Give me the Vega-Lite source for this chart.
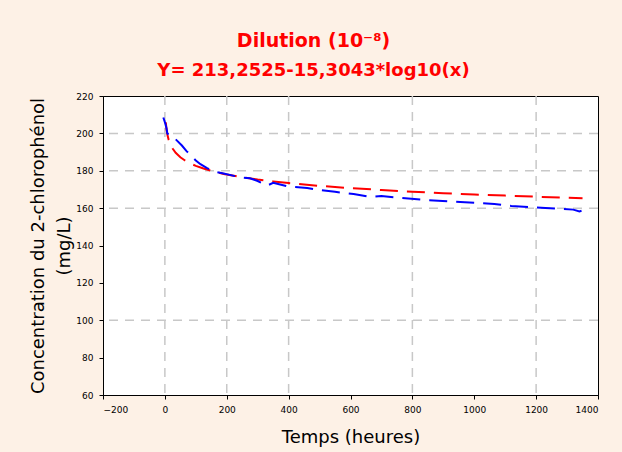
{
  "$schema": "https://vega.github.io/schema/vega-lite/v6.json",
  "width": 495,
  "height": 299,
  "autosize": {"type": "none"},
  "padding": {"left": 103, "top": 96, "right": 24, "bottom": 57},
  "background": "#fdf1e6",
  "title": {
    "text": "Dilution (10⁻⁸)",
    "subtitle": "Y= 213,2525-15,3043*log10(x)",
    "color": "#ff0000",
    "subtitleColor": "#ff0000",
    "font": "DejaVu Sans",
    "subtitleFont": "DejaVu Sans",
    "fontSize": 19,
    "subtitleFontSize": 18,
    "fontWeight": "bold",
    "subtitleFontWeight": "bold",
    "anchor": "middle",
    "dx": -37,
    "offset": 12,
    "subtitlePadding": 11
  },
  "config": {
    "view": {"fill": "white", "stroke": "black", "strokeWidth": 1},
    "axis": {
      "labelFont": "DejaVu Sans",
      "labelFontSize": 9,
      "labelColor": "black",
      "titleFont": "DejaVu Sans",
      "titleFontSize": 18,
      "titleFontWeight": "normal",
      "titleColor": "black",
      "domainColor": "black",
      "tickColor": "black",
      "grid": false,
      "format": "d"
    }
  },
  "datasets": {
    "blue": [
      {"t": -5, "c": 208.5}, {"t": 0, "c": 206}, {"t": 5, "c": 203}, {"t": 8, "c": 200},
      {"t": 15, "c": 199}, {"t": 25, "c": 198.5}, {"t": 40, "c": 196}, {"t": 55, "c": 193.5},
      {"t": 70, "c": 190.5}, {"t": 85, "c": 188}, {"t": 100, "c": 185.5}, {"t": 115, "c": 183.5},
      {"t": 135, "c": 181.5}, {"t": 160, "c": 179.5}, {"t": 190, "c": 178.5}, {"t": 243, "c": 176.5},
      {"t": 275, "c": 176}, {"t": 300, "c": 174.5}, {"t": 330, "c": 172}, {"t": 350, "c": 173.5},
      {"t": 400, "c": 171.5}, {"t": 460, "c": 170.8}, {"t": 500, "c": 169.7}, {"t": 550, "c": 168.7},
      {"t": 610, "c": 167.6}, {"t": 665, "c": 166}, {"t": 700, "c": 166.5}, {"t": 760, "c": 165.5},
      {"t": 840, "c": 164.4}, {"t": 955, "c": 163.3}, {"t": 1065, "c": 162.2}, {"t": 1120, "c": 161.2},
      {"t": 1230, "c": 160.1}, {"t": 1320, "c": 159.2}, {"t": 1340, "c": 158.2}, {"t": 1355, "c": 159}
    ],
    "red": [
      {"t": 3, "c": 205.9}, {"t": 5, "c": 202.6}, {"t": 8, "c": 199.4}, {"t": 12, "c": 196.7},
      {"t": 18, "c": 194.0}, {"t": 25, "c": 191.9}, {"t": 35, "c": 189.6}, {"t": 50, "c": 187.2},
      {"t": 65, "c": 185.5}, {"t": 80, "c": 184.1}, {"t": 100, "c": 182.6}, {"t": 125, "c": 181.2},
      {"t": 155, "c": 179.7}, {"t": 190, "c": 178.3}, {"t": 250, "c": 176.5}, {"t": 300, "c": 175.3},
      {"t": 350, "c": 174.3}, {"t": 400, "c": 173.4}, {"t": 500, "c": 171.9}, {"t": 600, "c": 170.7},
      {"t": 700, "c": 169.7}, {"t": 800, "c": 168.8}, {"t": 900, "c": 168.0}, {"t": 1000, "c": 167.3},
      {"t": 1100, "c": 166.7}, {"t": 1200, "c": 166.1}, {"t": 1300, "c": 165.6}, {"t": 1350, "c": 165.3}
    ],
    "hgrid": [{"g": 100}, {"g": 160}, {"g": 180}, {"g": 200}],
    "vgrid": [{"g": 0}, {"g": 200}, {"g": 400}, {"g": 800}, {"g": 1200}]
  },
  "layer": [
    {
      "data": {"name": "hgrid"},
      "mark": {"type": "rule", "color": "#c8c8c8", "strokeDash": [9, 7], "strokeWidth": 1.5},
      "encoding": {
        "y": {"field": "g", "type": "quantitative", "scale": {"domain": [60, 220], "nice": false, "zero": false},
          "axis": {"title": ["Concentration du 2-chlorophénol", "(mg/L)"], "values": [60, 80, 100, 120, 140, 160, 180, 200, 220], "tickSize": 4, "titlePadding": 2, "labelPadding": 6, "titleLineHeight": 26}}
      }
    },
    {
      "data": {"name": "vgrid"},
      "mark": {"type": "rule", "color": "#c8c8c8", "strokeDash": [9, 7], "strokeWidth": 1.5},
      "encoding": {
        "x": {"field": "g", "type": "quantitative", "scale": {"domain": [-200, 1400], "nice": false, "zero": false},
          "axis": {"title": "Temps (heures)", "values": [-200, 0, 200, 400, 600, 800, 1000, 1200, 1400], "tickSize": 4, "titlePadding": 14, "labelPadding": 6}}
      }
    },
    {
      "data": {"name": "red"},
      "mark": {"type": "line", "color": "#ff0000", "strokeWidth": 2, "strokeDash": [18, 9]},
      "encoding": {
        "x": {"field": "t", "type": "quantitative", "axis": {"title": "Temps (heures)", "values": [-200, 0, 200, 400, 600, 800, 1000, 1200, 1400], "tickSize": 4, "titlePadding": 14, "labelPadding": 6}},
        "y": {"field": "c", "type": "quantitative", "axis": {"title": ["Concentration du 2-chlorophénol", "(mg/L)"], "values": [60, 80, 100, 120, 140, 160, 180, 200, 220], "tickSize": 4, "titlePadding": 2, "labelPadding": 6, "titleLineHeight": 26}}
      }
    },
    {
      "data": {"name": "blue"},
      "mark": {"type": "line", "color": "#0000ff", "strokeWidth": 2, "strokeDash": [18, 9]},
      "encoding": {
        "x": {"field": "t", "type": "quantitative", "axis": {"title": "Temps (heures)", "values": [-200, 0, 200, 400, 600, 800, 1000, 1200, 1400], "tickSize": 4, "titlePadding": 14, "labelPadding": 6}},
        "y": {"field": "c", "type": "quantitative", "axis": {"title": ["Concentration du 2-chlorophénol", "(mg/L)"], "values": [60, 80, 100, 120, 140, 160, 180, 200, 220], "tickSize": 4, "titlePadding": 2, "labelPadding": 6, "titleLineHeight": 26}}
      }
    }
  ]
}
